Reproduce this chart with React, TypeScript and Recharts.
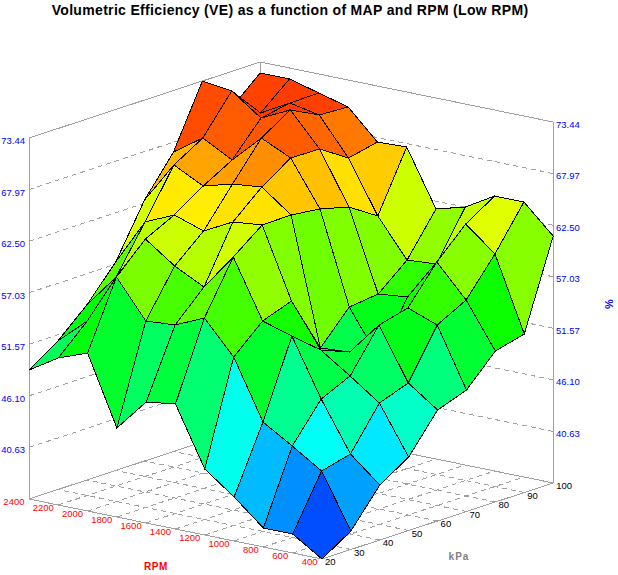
import React from "react";
import { ScatterChart, Scatter, XAxis, YAxis, ReferenceLine } from "recharts";

const rpmTicks = [400, 600, 800, 1000, 1200, 1400, 1600, 1800, 2000, 2200, 2400];
const kpaTicks = [20, 30, 40, 50, 60, 70, 80, 90, 100];
const veTicks = ["73.44", "67.97", "62.50", "57.03", "51.57", "46.10", "40.63"];
const VE_MIN = 35.16;
const VE_MAX = 73.44;

// VE (%) at each kPa column (20 … 100), one list per RPM row
const ve400 = [35.16, 37.12, 40.99, 42.95, 46.93, 48.04, 51.17, 51.97, 61.35];
const ve600 = [37.17, 42.85, 43.64, 48.04, 49.16, 54.3, 55.94, 59.82, 64.32];
const ve800 = [37.17, 44.86, 48.84, 50.27, 54.67, 55.47, 59.34, 62.36, 64.32];
const ve1000 = [39.83, 46.77, 54.88, 52.39, 51.17, 49.53, 54.99, 57.48, 62.52];
const ve1200 = [42.16, 53.03, 55.84, 56.95, 50.96, 54.3, 54.67, 57.27, 61.67];
const ve1400 = [48.42, 56.53, 61.99, 64.38, 64.43, 64.06, 63.26, 61.3, 67.61];
const ve1600 = [47.99, 55.15, 58.17, 64.06, 66.76, 68.83, 68.78, 66.81, 67.5];
const ve1800 = [44.6, 54.94, 59.76, 62.47, 66.44, 70.31, 72.28, 70.74, 70.58];
const ve2000 = [51.91, 58.97, 61.99, 63.53, 65.59, 67.34, 70.79, 71.37, 71.43];
const ve2200 = [50.75, 53.66, 57.32, 62.15, 67.19, 69.04, 73.02, 69.68, 72.28];
const ve2400 = [48.84, 50.91, 53.72, 57.27, 62.84, 66.92, 73.44, 69.57, 72.28];
const veRows = [ve400, ve600, ve800, ve1000, ve1200, ve1400, ve1600, ve1800, ve2000, ve2200, ve2400];

const W = 618;
const H = 575;
const GRAY = "#a0a0a0";
const FONT = "'Liberation Sans', Arial, sans-serif";

// Oblique 3D projection of (rpm index, kPa index, VE) onto the chart's data plane
const project = (i: number, j: number, z: number) => ({
  x: 322 - 29.3 * i + 28.9 * j,
  y: 559 - 6 * i - 9.5 * j - 9.43 * (z - VE_MIN),
});

const hueColor = (z: number) => {
  const hue = (240 * (VE_MAX - z)) / (VE_MAX - VE_MIN);
  return `hsl(${hue.toFixed(1)}, 100%, 50%)`;
};

type Cell = { key: string; color: string; pts: { x: number; y: number }[] };
const cells: Cell[] = [];
for (let i = rpmTicks.length - 2; i >= 0; i--) {
  for (let j = kpaTicks.length - 2; j >= 0; j--) {
    const corners: [number, number][] = [
      [i, j],
      [i + 1, j],
      [i + 1, j + 1],
      [i, j + 1],
    ];
    const zs = corners.map(([a, b]) => veRows[a][b]);
    const avg = zs.reduce((s, v) => s + v, 0) / 4;
    cells.push({
      key: `c${i}-${j}`,
      color: hueColor(avg),
      pts: corners.map(([a, b]) => project(a, b, veRows[a][b])),
    });
  }
}

const noPoint = () => <g />;

const polygonLine = (color: string) => (p: any) => (
  <polygon
    points={p.points.map((q: any) => `${q.x},${q.y}`).join(" ")}
    fill={color}
    stroke="#000"
    strokeWidth={1}
    strokeLinejoin="miter"
    shapeRendering="crispEdges"
  />
);

const labelShape =
  (color: string, anchor: "start" | "end" | "middle", size = 9.5) =>
  (p: any) => (
    <text
      x={p.cx}
      y={p.cy}
      fill={color}
      fontSize={size}
      fontFamily={FONT}
      textAnchor={anchor}
      dominantBaseline="central"
    >
      {p.payload.text}
    </text>
  );

const seg = (a: { x: number; y: number }, b: { x: number; y: number }, dashed: boolean, key: string) => (
  <ReferenceLine
    key={key}
    segment={[a, b]}
    stroke={GRAY}
    strokeWidth={1}
    strokeDasharray={dashed ? "5 4" : undefined}
    shapeRendering="crispEdges"
    ifOverflow="visible"
  />
);

const I = rpmTicks.length - 1;
const J = kpaTicks.length - 1;

const leftLabels = veTicks.map((t) => {
  const p = project(I, 0, Number(t));
  return { x: 25, y: p.y + 2.5, text: t };
});
const rightLabels = veTicks.map((t) => {
  const p = project(0, J, Number(t));
  return { x: 556, y: p.y + 2, text: t };
});
const rpmLabels = rpmTicks.map((t, i) => {
  const p = project(i, 0, VE_MIN);
  return { x: p.x - 4.5, y: p.y + 2.5, text: String(t) };
});
const kpaLabels = kpaTicks.map((t, j) => {
  const p = project(0, j, VE_MIN);
  return { x: p.x + 3, y: p.y + 2.5, text: String(t) };
});

export default function App() {
  const walls: React.ReactNode[] = [];
  // solid frame
  const f = (a: number, b: number, z: number) => project(a, b, z);
  walls.push(seg(f(I, 0, VE_MIN), f(I, 0, VE_MAX), false, "v1"));
  walls.push(seg(f(0, J, VE_MIN), f(0, J, VE_MAX), false, "v2"));
  walls.push(seg(f(I, J, VE_MIN), f(I, J, VE_MAX), false, "v3"));
  walls.push(seg(f(I, 0, VE_MAX), f(I, J, VE_MAX), false, "t1"));
  walls.push(seg(f(0, J, VE_MAX), f(I, J, VE_MAX), false, "t2"));
  walls.push(seg(f(I, 0, VE_MIN), f(I, J, VE_MIN), false, "b1"));
  walls.push(seg(f(0, J, VE_MIN), f(I, J, VE_MIN), false, "b2"));
  walls.push(seg(f(0, 0, VE_MIN), f(I, 0, VE_MIN), false, "b3"));
  walls.push(seg(f(0, 0, VE_MIN), f(0, J, VE_MIN), false, "b4"));
  // dashed wall grid
  veTicks.slice(1).forEach((t) => {
    const z = Number(t);
    walls.push(seg(f(I, 0, z), f(I, J, z), true, `wl${t}`));
    walls.push(seg(f(0, J, z), f(I, J, z), true, `wr${t}`));
  });
  // dashed floor grid
  for (let i = 1; i < I; i++) walls.push(seg(f(i, 0, VE_MIN), f(i, J, VE_MIN), true, `fi${i}`));
  for (let j = 1; j < J; j++) walls.push(seg(f(0, j, VE_MIN), f(I, j, VE_MIN), true, `fj${j}`));

  return (
    <div style={{ position: "absolute", left: 0, top: 0, width: W, height: H, background: "#fff" }}>
      <ScatterChart width={W} height={H} margin={{ top: 0, right: 0, bottom: 0, left: 0 }}>
        <XAxis type="number" dataKey="x" domain={[0, W]} hide allowDataOverflow />
        <YAxis type="number" dataKey="y" domain={[0, H]} reversed hide allowDataOverflow width={0} />
        {walls}
        {cells.map((c) => (
          <Scatter
            key={c.key}
            data={c.pts}
            line={polygonLine(c.color)}
            shape={noPoint}
            isAnimationActive={false}
          />
        ))}
        <Scatter data={leftLabels} shape={labelShape("#0000ff", "end")} isAnimationActive={false} />
        <Scatter data={rightLabels} shape={labelShape("#0000ff", "start")} isAnimationActive={false} />
        <Scatter data={rpmLabels} shape={labelShape("#ff0000", "end")} isAnimationActive={false} />
        <Scatter data={kpaLabels} shape={labelShape("#000000", "start")} isAnimationActive={false} />
        <text x={290} y={10} textAnchor="middle" dominantBaseline="central" fontFamily={FONT} fontWeight="bold" fontSize={14} letterSpacing={0.33} fill="#000">
          Volumetric Efficiency (VE) as a function of MAP and RPM (Low RPM)
        </text>
        <text x={156} y={566} textAnchor="middle" dominantBaseline="central" fontFamily={FONT} fontWeight="bold" fontSize={10} letterSpacing={0.6} fill="#ff0000">
          RPM
        </text>
        <text x={459} y={556} textAnchor="middle" dominantBaseline="central" fontFamily={FONT} fontWeight="bold" fontSize={10} letterSpacing={1} fill="#808080">
          kPa
        </text>
        <text x={609} y={304} textAnchor="middle" dominantBaseline="central" fontFamily={FONT} fontWeight="bold" fontSize={11} fill="#0000ff" transform="rotate(-90 609 304)">
          %
        </text>
      </ScatterChart>
    </div>
  );
}
